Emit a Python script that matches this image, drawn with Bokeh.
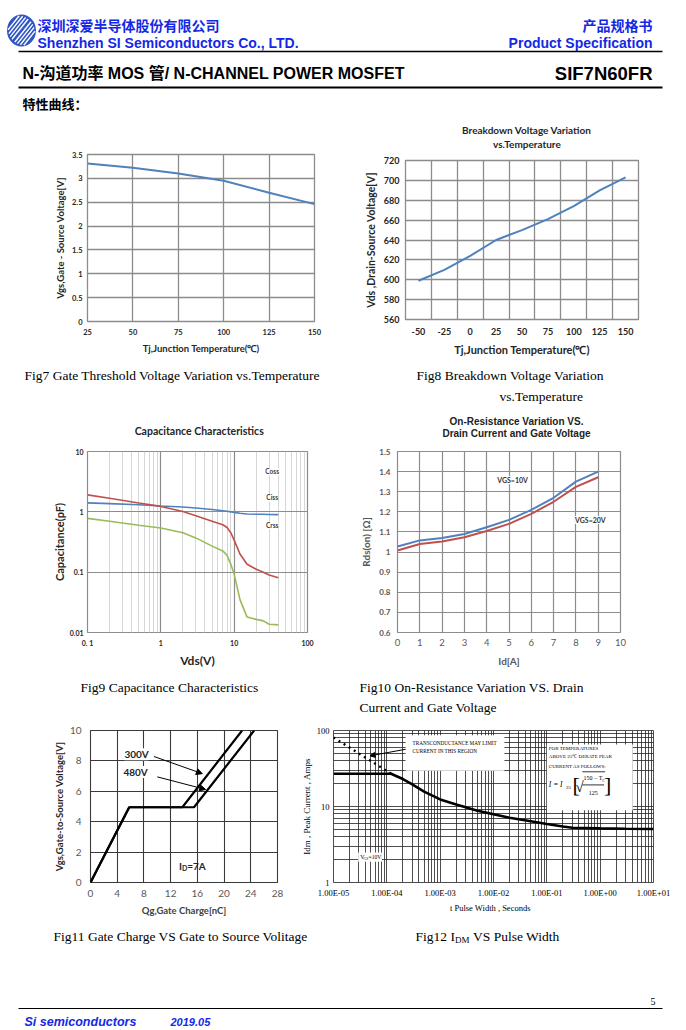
import math
from bokeh.plotting import figure
from bokeh.layouts import column, row
from bokeh.models import (Range1d, FixedTicker, CustomJSTickFormatter, Label,
                          Arrow, NormalHead, BoxAnnotation)
from bokeh.core.properties import value
from bokeh.embed import file_html
from bokeh.resources import INLINE

# ------------------------------------------------------------------ DATA
fig7_tj = [25, 50, 75, 100, 125, 150]
fig7_vgs = [3.31, 3.22, 3.10, 2.95, 2.70, 2.46]
fig7_xticks = [25, 50, 75, 100, 125, 150]
fig7_yticks = [0, 0.5, 1, 1.5, 2, 2.5, 3, 3.5]

fig8_tj = [-50, -25, 0, 25, 50, 75, 100, 125, 150]
fig8_vds = [599, 610, 624, 640, 650, 661, 674, 690, 703]
fig8_xticks = [-50, -25, 0, 25, 50, 75, 100, 125, 150]
fig8_yticks = [560, 580, 600, 620, 640, 660, 680, 700, 720]

fig9_vds = [0.1, 0.2, 0.5, 1, 2, 3, 5, 7, 8, 9, 10, 12, 15, 20, 25, 30, 40]
fig9_blue = [1.41, 1.37, 1.31, 1.25, 1.20, 1.16, 1.09, 1.04, 1.02, 1.00, 0.98, 0.95, 0.92, 0.91, 0.91, 0.905, 0.90]
fig9_red = [1.91, 1.68, 1.40, 1.23, 1.01, 0.86, 0.70, 0.61, 0.55, 0.45, 0.34, 0.20, 0.135, 0.112, 0.10, 0.09, 0.081]
fig9_green = [0.78, 0.70, 0.60, 0.54, 0.45, 0.37, 0.27, 0.225, 0.19, 0.135, 0.093, 0.035, 0.018, 0.0165, 0.0156, 0.0137, 0.0134]
fig9_names = ["Coss", "Ciss", "Crss"]
fig9_xticks = [0.1, 1, 10, 100]
fig9_yticks = [0.01, 0.1, 1, 10]

fig10_id = [0, 1, 2, 3, 4, 5, 6, 7, 8, 9]
fig10_vgs10 = [1.028, 1.058, 1.07, 1.09, 1.123, 1.16, 1.21, 1.27, 1.35, 1.40]
fig10_vgs20 = [1.008, 1.04, 1.053, 1.074, 1.105, 1.14, 1.19, 1.25, 1.324, 1.372]
fig10_xticks = [0, 1, 2, 3, 4, 5, 6, 7, 8, 9, 10]
fig10_yticks = [0.6, 0.7, 0.8, 0.9, 1, 1.1, 1.2, 1.3, 1.4, 1.5]

fig11_qg_300 = [0, 5.8, 13.75, 22.7]
fig11_vgs_300 = [0, 4.95, 4.95, 10]
fig11_qg_480 = [0, 5.8, 15.5, 24.5]
fig11_vgs_480 = [0, 4.95, 4.95, 10]
fig11_xticks = [0, 4, 8, 12, 16, 20, 24, 28]
fig11_yticks = [0, 2, 4, 6, 8, 10]

fig12_t = [1e-5, 1.2e-4, 2e-4, 3e-4, 5e-4, 1e-3, 2e-3, 3e-3, 5e-3, 1e-2, 2e-2, 5e-2, 1e-1, 2e-1, 3e-1, 1, 3, 10]
fig12_idm = [27, 27, 23, 19.5, 15.7, 12.4, 10.6, 9.8, 8.8, 7.9, 7.1, 6.4, 5.9, 5.45, 5.25, 5.15, 5.1, 5.05]
fig12_gm_t = [1e-5, 1.2e-4]
fig12_gm_idm = [81, 27]
fig12_xticks = [1e-5, 1e-4, 1e-3, 1e-2, 1e-1, 1, 10]
fig12_yticks = [1, 10, 100]

# ------------------------------------------------------------------ STYLE
BLUE = "#1428e6"
SANS = "Liberation Sans"
SERIF = "Liberation Serif"
CJK = "Noto Sans CJK SC"
XL = "Lato"
TXT = "#262626"


def strip(x0, y0, w, h):
    p = figure(width=w, height=h, x_range=Range1d(x0, x0 + w), y_range=Range1d(y0 + h, y0),
               x_axis_location=None, y_axis_location=None, min_border=0,
               output_backend="svg", toolbar_location=None)
    p.grid.visible = False
    p.outline_line_color = None
    return p


def T(p, x, y, s, size, color="black", font=SANS, style="normal", align="left"):
    p.text(x=[x], y=[y], text=[s], text_font=value(font), text_font_size=f"{size}px",
           text_color=color, text_font_style=style, text_align=align, text_baseline="middle")


def chart(w, h, xr, yr, left, right, top, bottom, **kw):
    p = figure(width=w, height=h, x_range=xr, y_range=yr,
               min_border_left=left, min_border_right=right,
               min_border_top=top, min_border_bottom=bottom,
               output_backend="svg", toolbar_location=None, **kw)
    for ax in (p.xaxis[0], p.yaxis[0]):
        ax.major_tick_in = 0
        ax.major_tick_out = 0
        ax.minor_tick_in = 0
        ax.minor_tick_out = 0
        ax.axis_line_color = None
    return p


def style_axis(ax, font, size, color, fstyle, standoff, label, lsize, lcolor, lstyle, lstandoff):
    ax.major_label_text_font = font
    ax.major_label_text_font_size = f"{size}px"
    ax.major_label_text_color = color
    ax.major_label_text_font_style = fstyle
    ax.major_label_standoff = standoff
    ax.axis_label = label
    ax.axis_label_text_font = font
    ax.axis_label_text_font_size = f"{lsize}px"
    ax.axis_label_text_color = lcolor
    ax.axis_label_text_font_style = lstyle
    ax.axis_label_standoff = lstandoff


def lab(p, x, y, text, size, color=TXT, font=XL, style="bold", align="center", bg=None):
    l = Label(x=x, y=y, text=text, text_font=font, text_font_size=f"{size}px",
              text_color=color, text_font_style=style, text_align=align, text_baseline="middle")
    if bg:
        l.background_fill_color = bg
    p.add_layout(l)


def grid_style(p, color, width):
    p.grid.grid_line_color = color
    p.grid.grid_line_width = width
    p.outline_line_color = color
    p.outline_line_width = width


STR = CustomJSTickFormatter(code="return String(tick);")

# ------------------------------------------------------------------ HEADER
hd = strip(0, 0, 684, 118)
hd.ellipse(x=[21], y=[30], width=29, height=32, fill_color="#2f55c6", line_color=None)
lx, ly, lrx, lry = 21.0, 30.0, 14.5, 16.0
ddx, ddy = 0.62, -0.78
nnx, nny = 0.78, 0.62
sx0, sy0, sx1, sy1 = [], [], [], []
for o in [-11, -8, -5, -2, 2, 5, 8, 11]:
    ox, oy = o * nnx, o * nny
    a = (ddx / lrx) ** 2 + (ddy / lry) ** 2
    b = 2 * (ox * ddx / lrx ** 2 + oy * ddy / lry ** 2)
    c = (ox / lrx) ** 2 + (oy / lry) ** 2 - 1
    disc = b * b - 4 * a * c
    if disc <= 0:
        continue
    t0 = (-b - math.sqrt(disc)) / (2 * a)
    t1 = (-b + math.sqrt(disc)) / (2 * a)
    tm, th = (t0 + t1) / 2, (t1 - t0) / 2 * 0.85
    sx0.append(lx + ox + (tm - th) * ddx)
    sy0.append(ly + oy + (tm - th) * ddy)
    sx1.append(lx + ox + (tm + th) * ddx)
    sy1.append(ly + oy + (tm + th) * ddy)
hd.segment(x0=sx0, y0=sy0, x1=sx1, y1=sy1, line_color="white", line_width=1.4)
T(hd, 37, 24, "深圳深爱半导体股份有限公司", 14, BLUE, CJK, "bold")
T(hd, 37, 42, "Shenzhen SI Semiconductors Co., LTD.", 14, BLUE, SANS, "bold")
T(hd, 652, 24, "产品规格书", 14, BLUE, CJK, "bold", "right")
T(hd, 652, 42, "Product Specification", 14, BLUE, SANS, "bold", "right")
hd.line(x=[18, 662], y=[51, 51], line_color="black", line_width=1.5)
T(hd, 22, 73, "N-沟道功率 MOS 管/ N-CHANNEL POWER MOSFET", 16, "black", "Liberation Sans, Noto Sans CJK SC", "bold")
T(hd, 652, 73, "SIF7N60FR", 18.5, "black", SANS, "bold", "right")
hd.line(x=[18, 662], y=[87, 87], line_color="black", line_width=2)
T(hd, 22, 103, "特性曲线：", 13, "black", CJK, "bold")

# ------------------------------------------------------------------ FIG 7
p7 = chart(348, 242, Range1d(25, 150), Range1d(0, 3.5), 87, 34, 36, 39)
p7.line(fig7_tj, fig7_vgs, line_color="#4f81bd", line_width=2)
p7.xaxis.ticker = FixedTicker(ticks=fig7_xticks)
p7.yaxis.ticker = FixedTicker(ticks=fig7_yticks)
p7.yaxis.formatter = STR
grid_style(p7, "#8c8c8c", 1.3)
style_axis(p7.xaxis[0], XL, 7.5, TXT, "bold", 7, "Tj,Junction Temperature(℃)", 9.5, TXT, "bold", 5)
style_axis(p7.yaxis[0], XL, 7.5, TXT, "bold", 5, "Vgs,Gate - Source Voltage[V]", 9.5, TXT, "bold", 3)

# ------------------------------------------------------------------ FIG 8
t8 = strip(348, 118, 336, 34)
T(t8, 523, 129, "Breakdown Voltage Variation", 10, TXT, XL, "bold", "center")
T(t8, 523, 143, "vs.Temperature", 10, TXT, XL, "bold", "center")
p8 = chart(336, 208, Range1d(-62.5, 162.5), Range1d(560, 720), 57, 46, 8, 41)
p8.line(fig8_tj, fig8_vds, line_color="#4f81bd", line_width=2)
p8.xaxis.ticker = FixedTicker(ticks=fig8_xticks)
p8.xaxis.formatter = STR
p8.yaxis.ticker = FixedTicker(ticks=fig8_yticks)
p8.xgrid.ticker = FixedTicker(ticks=[t + 12.5 for t in fig8_xticks[:-1]])
grid_style(p8, "#8c8c8c", 1.3)
style_axis(p8.xaxis[0], XL, 9, TXT, "bold", 8, "Tj,Junction Temperature(℃)", 11, TXT, "bold", 5)
style_axis(p8.yaxis[0], XL, 9, TXT, "bold", 6, "Vds ,Drain-Source Voltage[V]", 10.5, TXT, "bold", 4)

# ------------------------------------------------------------------ CAPTIONS 1
c1 = strip(0, 360, 684, 80)
T(c1, 24, 375, "Fig7 Gate Threshold Voltage Variation vs.Temperature", 13.5, "black", SERIF)
T(c1, 416, 375, "Fig8 Breakdown Voltage Variation", 13.5, "black", SERIF)
T(c1, 499, 396, "vs.Temperature", 13.5, "black", SERIF)
T(c1, 200, 430, "Capacitance  Characteristics", 10.5, TXT, XL, "bold", "center")
T(c1, 516, 421, "On-Resistance Variation VS.", 10, "#222222", SANS, "bold", "center")
T(c1, 516, 433, "Drain Current and Gate Voltage", 10, "#222222", SANS, "bold", "center")

# ------------------------------------------------------------------ FIG 9
p9 = chart(348, 230, Range1d(0.1, 100), Range1d(0.01, 10), 87, 41, 6, 36,
           x_axis_type="log", y_axis_type="log")
p9.line(fig9_vds, fig9_blue, line_color="#4f81bd", line_width=1.6)
p9.line(fig9_vds, fig9_red, line_color="#c0504d", line_width=1.6)
p9.line(fig9_vds, fig9_green, line_color="#9bbb59", line_width=1.6)
p9.xaxis.ticker = FixedTicker(ticks=fig9_xticks,
                              minor_ticks=[k * 10 ** e for e in (-1, 0, 1) for k in range(2, 10)])
p9.yaxis.ticker = FixedTicker(ticks=fig9_yticks, minor_ticks=[])
p9.xaxis.formatter = CustomJSTickFormatter(code="if (tick < 0.5) return '0. 1'; return String(Math.round(tick));")
p9.yaxis.formatter = CustomJSTickFormatter(code="if (tick >= 1) return String(Math.round(tick)); return tick < 0.05 ? '0.01' : '0.1';")
grid_style(p9, "#8c8c8c", 1.2)
p9.xgrid.minor_grid_line_color = "#d6d6d6"
p9.xgrid.minor_grid_line_width = 1
style_axis(p9.xaxis[0], XL, 7, TXT, "bold", 6, "Vds(V)", 12, TXT, "bold", 3)
style_axis(p9.yaxis[0], XL, 7, TXT, "bold", 4, "Capacitance(pF)", 11, TXT, "bold", 1)
lab(p9, 33, 4.6, fig9_names[0], 6.5, "#404040", bg="white")
lab(p9, 33, 1.7, fig9_names[1], 6.5, "#404040", bg="white")
lab(p9, 33, 0.59, fig9_names[2], 6.5, "#404040", bg="white")

# ------------------------------------------------------------------ FIG 10
p10 = chart(336, 230, Range1d(0, 10), Range1d(0.6, 1.5), 49, 64, 11, 37)
p10.line(fig10_id, fig10_vgs10, line_color="#4f81bd", line_width=2)
p10.line(fig10_id, fig10_vgs20, line_color="#c0504d", line_width=2)
p10.xaxis.ticker = FixedTicker(ticks=fig10_xticks)
p10.yaxis.ticker = FixedTicker(ticks=fig10_yticks)
p10.yaxis.formatter = STR
grid_style(p10, "#8c8c8c", 1.2)
style_axis(p10.xaxis[0], XL, 9.5, "#595959", "normal", 6, "Id[A]", 10, "#595959", "bold", 6)
style_axis(p10.yaxis[0], XL, 8, "#595959", "bold", 7, "Rds(on) [Ω]", 10, "#595959", "bold", 4)
lab(p10, 5.16, 1.357, "VGS=10V", 7, "#333333", bg="white")
lab(p10, 8.65, 1.16, "VGS=20V", 7, "#333333", bg="white")

# ------------------------------------------------------------------ CAPTIONS 2
c2 = strip(0, 670, 684, 55)
T(c2, 80, 687, "Fig9 Capacitance Characteristics", 13.5, "black", SERIF)
T(c2, 359, 687, "Fig10 On-Resistance Variation VS. Drain", 13.5, "black", SERIF)
T(c2, 359, 707, "Current and Gate Voltage", 13.5, "black", SERIF)

# ------------------------------------------------------------------ FIG 11
p11 = chart(298, 200, Range1d(0, 28), Range1d(0, 10), 90, 21, 3, 43)
p11.line(fig11_qg_300, fig11_vgs_300, line_color="black", line_width=2.2)
p11.line(fig11_qg_480, fig11_vgs_480, line_color="black", line_width=2.2)
p11.xaxis.ticker = FixedTicker(ticks=fig11_xticks)
p11.yaxis.ticker = FixedTicker(ticks=fig11_yticks)
grid_style(p11, "#3a3a3a", 1.1)
style_axis(p11.xaxis[0], XL, 10, "#595959", "normal", 7, "Qg,Gate Charge[nC]", 9.5, "#404040", "bold", 5)
style_axis(p11.yaxis[0], XL, 10, "#595959", "normal", 9, "Vgs,Gate-to-Source Voltage[V]", 9.5, TXT, "bold", 2)
lab(p11, 6.9, 8.44, "300V", 10, TXT, bg="white")
lab(p11, 6.75, 7.27, "480V", 10, TXT, bg="white")
p11.add_layout(Arrow(end=NormalHead(size=6, fill_color="black", line_color="black"),
                     x_start=9.5, y_start=8.29, x_end=16.75, y_end=7.16,
                     line_color="black", line_width=1))
p11.add_layout(Arrow(end=NormalHead(size=6, fill_color="black", line_color="black"),
                     x_start=10.0, y_start=6.95, x_end=17.24, y_end=6.12,
                     line_color="black", line_width=1))
lab(p11, 13.25, 1.1, "I", 10, TXT, align="left")
lab(p11, 13.7, 0.97, "D", 7, TXT, align="left")
lab(p11, 14.48, 1.1, "=7A", 10, TXT, align="left")

# ------------------------------------------------------------------ FIG 12
p12 = chart(386, 200, Range1d(1e-5, 10), Range1d(1, 100), 31, 31, 5, 33,
            x_axis_type="log", y_axis_type="log")


def at12(px, py):
    return 10 ** (-5 + (px - 329) / 54.0), 10 ** (2 - (py - 730) / 81.0)


def box12(x0, y0, x1, y1):
    a0, b0 = at12(x0, y0)
    a1, b1 = at12(x1, y1)
    p12.add_layout(BoxAnnotation(left=a0, right=a1, top=b0, bottom=b1, fill_color="white",
                                 fill_alpha=1, line_color=None, level="underlay"))


def lab12(px, py, text, size, style="normal", align="left"):
    x, y = at12(px, py)
    lab(p12, x, y, text, size, "black", SERIF, style, align)


p12.xaxis.ticker = FixedTicker(ticks=fig12_xticks,
                               minor_ticks=[k * 10 ** e for e in range(-5, 1) for k in range(2, 10)])
p12.yaxis.ticker = FixedTicker(ticks=fig12_yticks,
                               minor_ticks=[k * 10 ** e for e in range(0, 2) for k in range(2, 10)])
p12.xaxis.formatter = CustomJSTickFormatter(code="""
const e = Math.round(Math.log10(tick)); const a = Math.abs(e);
return '1.00E' + (e < 0 ? '-' : '+') + (a < 10 ? '0' : '') + a;""")
p12.yaxis.formatter = CustomJSTickFormatter(code="return String(Math.round(tick));")
grid_style(p12, "#222222", 0.8)
p12.grid.minor_grid_line_color = "#222222"
p12.grid.minor_grid_line_width = 0.8
style_axis(p12.xaxis[0], SERIF, 8.5, "black", "normal", 5, "t    Pulse Width , Seconds", 8.5, "black", "normal", 2)
style_axis(p12.yaxis[0], SERIF, 8.5, "black", "normal", 4, "Idm , Peak Current , Amps", 9, "black", "normal", 2)
box12(402, 735, 502, 773)
box12(545, 745, 632, 815)
box12(354, 860, 378, 870)
p12.line(fig12_t, fig12_idm, line_color="black", line_width=2.6)
p12.line(fig12_gm_t, fig12_gm_idm, line_color="black", line_width=2.4, line_dash="2 4")
lab12(409, 743, "TRANSCONDUCTANCE  MAY  LIMIT", 5.2)
lab12(409, 752, "CURRENT  IN  THIS  REGION", 5.2)
ax0, ay0 = at12(402, 750)
ax1, ay1 = at12(366, 757)
p12.add_layout(Arrow(end=NormalHead(size=5, fill_color="black", line_color="black"),
                     x_start=ax0, y_start=ay0, x_end=ax1, y_end=ay1, line_color="black", line_width=1))
lab12(547, 749, "FOR  TEMPERATURES", 5)
lab12(547, 758, "ABOVE  25℃ DERATE  PEAK", 5)
lab12(547, 768, "CURRENT  AS  FOLLOWS:", 5)
lab12(547, 788, "I = I", 7.5, "italic")
lab12(564.5, 791, "25", 5)
lab12(571, 788, "[", 22)
lab12(574, 790, "√", 15)
lab12(582, 781, "150 − T", 6)
lab12(601, 783, "C", 4)
lab12(592, 797, "125", 6, align="center")
lab12(603, 788, "]", 22)
f0 = at12(581, 774)
f1 = at12(604, 774)
g0 = at12(581, 788)
g1 = at12(603, 788)
p12.segment(x0=[f0[0], g0[0]], y0=[f0[1], g0[1]], x1=[f1[0], g1[0]], y1=[f1[1], g1[1]],
            line_color="black", line_width=0.8)
lab12(356, 865, "V", 6)
lab12(359.5, 867, "GS", 3.5)
lab12(364.5, 865, "=10V", 5.5)

# ------------------------------------------------------------------ CAPTIONS 3 + FOOTER
c3 = strip(0, 925, 684, 103)
T(c3, 53, 936, "Fig11 Gate Charge VS Gate to Source Volitage", 13.5, "black", SERIF)
T(c3, 415, 936, "Fig12 I", 13.5, "black", SERIF)
T(c3, 454.5, 939, "DM", 9, "black", SERIF)
T(c3, 472.5, 936, "VS Pulse Width", 13.5, "black", SERIF)
T(c3, 655, 1001, "5", 10, "black", SERIF, "normal", "right")
c3.line(x=[18, 662], y=[1008, 1008], line_color="black", line_width=1)
T(c3, 24, 1021, "Si semiconductors", 12.5, BLUE, SANS, "bold italic")
T(c3, 170, 1021, "2019.05", 11, BLUE, SANS, "bold italic")

page = column(hd,
              row(p7, column(t8, p8)),
              c1,
              row(p9, p10),
              c2,
              row(p11, p12),
              c3)

open("out.html", "w").write(file_html(page, INLINE))
